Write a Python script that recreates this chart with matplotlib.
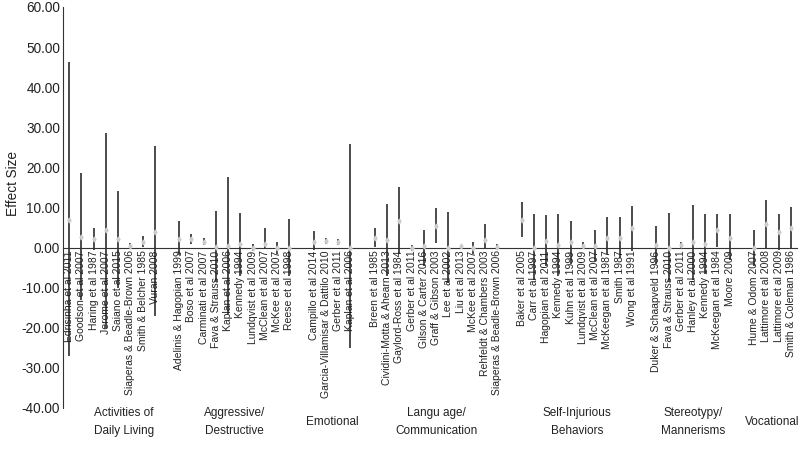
from matplotlib import pyplot as plt
import matplotlib.transforms as mtransforms
import numpy as np

plt.rcParams['font.family'] = ['Liberation Sans', 'DejaVu Sans']

# groups and studies
groups = ["Activities of\nDaily Living", "Aggressive/\nDestructive", "Emotional",
          "Langu age/\nCommunication", "Self-Injurious\nBehaviors",
          "Stereotypy/\nMannerisms", "Vocational"]
group_shift = [1.0, 0, 0, 0, 0, 0, 0]

studies = [
    ["Edrisinha et al 2011", "Goodson et al 2007", "Haring et al 1987", "Jerome et al 2007",
     "Saiano et al 2015", "Siaperas & Beadle-Brown 2006", "Smith & Belcher 1985", "Vuran 2008"],
    ["Adelinis & Hagopian 1999", "Boso et al 2007", "Carminati et al 2007", "Fava & Strauss 2010",
     "Kaplan et al 2006", "Kennedy 1994", "Lundqvist et al 2009", "McClean et al 2007",
     "McKee et al 2007", "Reese et al 1998"],
    ["Campillo et al 2014", "Garcia-Villamisar & Dattilo 2010", "Gerber et al 2011",
     "Kaplan et al 2006"],
    ["Breen et al 1985", "Cividini-Motta & Ahearn 2013", "Gaylord-Ross et al 1984",
     "Gerber et al 2011", "Gilson & Carter 2016", "Graff & Gibson 2003", "Lee et al 2002",
     "Liu et al 2013", "McKee et al 2007", "Rehfeldt & Chambers 2003",
     "Siaperas & Beadle-Brown 2006"],
    ["Baker et al 2005", "Carr et al 1997", "Hagopian et al 2011", "Kennedy 1994",
     "Kuhn et al 1999", "Lundqvist et al 2009", "McClean et al 2007", "McKeegan et al 1987",
     "Smith 1987", "Wong et al 1991"],
    ["Duker & Schaapveld 1996", "Fava & Strauss 2010", "Gerber et al 2011", "Hanley et al 2000",
     "Kennedy 1994", "McKeegan et al 1984", "Moore 2009"],
    ["Hume & Odom 2007", "Lattimore et al 2008", "Lattimore et al 2009", "Smith & Coleman 1986"],
]

effect = [
    [6.9, 2.6, 2.2, 4.3, 2.2, 0.4, 1.4, 3.8],
    [2.2, 2.2, 1.5, 0.1, 0.3, 0.8, 0.0, 0.8, 0.0, 0.0],
    [1.5, 1.7, 1.3, 0.0],
    [2.5, 1.8, 6.7, 0.0, 0.4, 5.5, 0.0, 0.3, 0.0, 2.0, 0.2],
    [6.9, 0.0, 1.7, 0.6, 1.3, 0.5, 0.3, 2.3, 2.5, 4.8],
    [0.6, 0.0, 0.7, 1.3, 0.8, 4.3, 2.5],
    [0.0, 5.9, 3.9, 4.8],
]
lower = [
    [-27.0, -13.0, -0.5, -20.0, -10.0, -0.4, 0.2, -17.0],
    [-1.8, 1.0, 0.6, -8.5, -16.5, -7.0, -0.9, -0.2, -1.6, -7.0],
    [-0.6, 1.0, 0.6, -25.0],
    [0.1, -7.2, -1.5, -0.8, -4.5, 1.2, -8.9, -0.2, -1.7, -0.2, -0.4],
    [2.6, -8.0, -4.7, -7.2, -4.0, -0.4, -3.4, -1.5, -2.6, -0.8],
    [-4.0, -8.6, 0.0, -8.1, -6.7, 0.1, -3.0],
    [-4.5, 0.0, -0.5, -0.4],
]
upper = [
    [46.4, 18.7, 5.0, 28.7, 14.2, 1.2, 2.9, 25.4],
    [6.6, 3.4, 2.4, 9.1, 17.5, 8.6, 0.9, 4.8, 1.4, 7.2],
    [4.1, 2.4, 2.1, 25.8],
    [4.9, 10.8, 15.1, 0.6, 4.5, 9.8, 8.9, 0.7, 1.5, 6.0, 0.8],
    [11.3, 8.3, 8.1, 8.4, 6.6, 1.3, 4.5, 7.7, 7.6, 10.4],
    [5.3, 8.6, 1.3, 10.7, 8.3, 8.5, 8.3],
    [4.5, 11.9, 8.3, 10.0],
]

# one empty slot between groups
xs, labels, centers = [], [], []
pos = 0
for names in studies:
    idx = list(range(pos, pos + len(names)))
    xs.append(idx)
    labels += names
    centers.append(np.mean(idx))
    pos += len(names) + 1

fig = plt.figure(figsize=(8, 4.49), dpi=100)
ax = fig.add_axes([63/800, 1 - 408/449, 734/800, 401/449])

# move the x axis to zero first (this resets the tick objects)
ax.spines['bottom'].set_position(('data', 0))
ax.spines['top'].set_visible(False)
ax.spines['right'].set_visible(False)
ax.spines['left'].set_color('#333333')
ax.spines['bottom'].set_color('#333333')

for g in range(len(groups)):
    x = np.array(xs[g])
    ax.vlines(x, lower[g], upper[g], color='#1a1a1a', linewidth=1.1, zorder=2)
    ax.plot(x, effect[g], linestyle='none', marker='d', markersize=2.5,
            color='#cccccc', zorder=3)

ax.set_xlim(-0.5, pos - 1.5)
ax.set_ylim(-40, 60)
ax.set_yticks(np.arange(-40, 61, 10))
ax.set_yticklabels(["%.2f" % v for v in np.arange(-40, 61, 10)], fontsize=9.8, color='#222222')
ax.set_xticks(sum(xs, []))
ax.set_xticklabels(labels, rotation=90, fontsize=7.5, color='#222222')
ax.tick_params(axis='x', length=0, pad=2)
ax.tick_params(axis='y', length=0, pad=2)

ax.set_ylabel("Effect Size", fontsize=9.8, color='#222222')
ax.yaxis.set_label_coords(-0.058, 0.561)

trans = mtransforms.blended_transform_factory(ax.transData, fig.transFigure)
for c, s, name in zip(centers, group_shift, groups):
    ax.text(c + s, 1 - 422/449, name, transform=trans, ha='center', va='center',
            fontsize=8.5, color='#222222', linespacing=1.7)

fig.savefig("out.png", dpi=100)
